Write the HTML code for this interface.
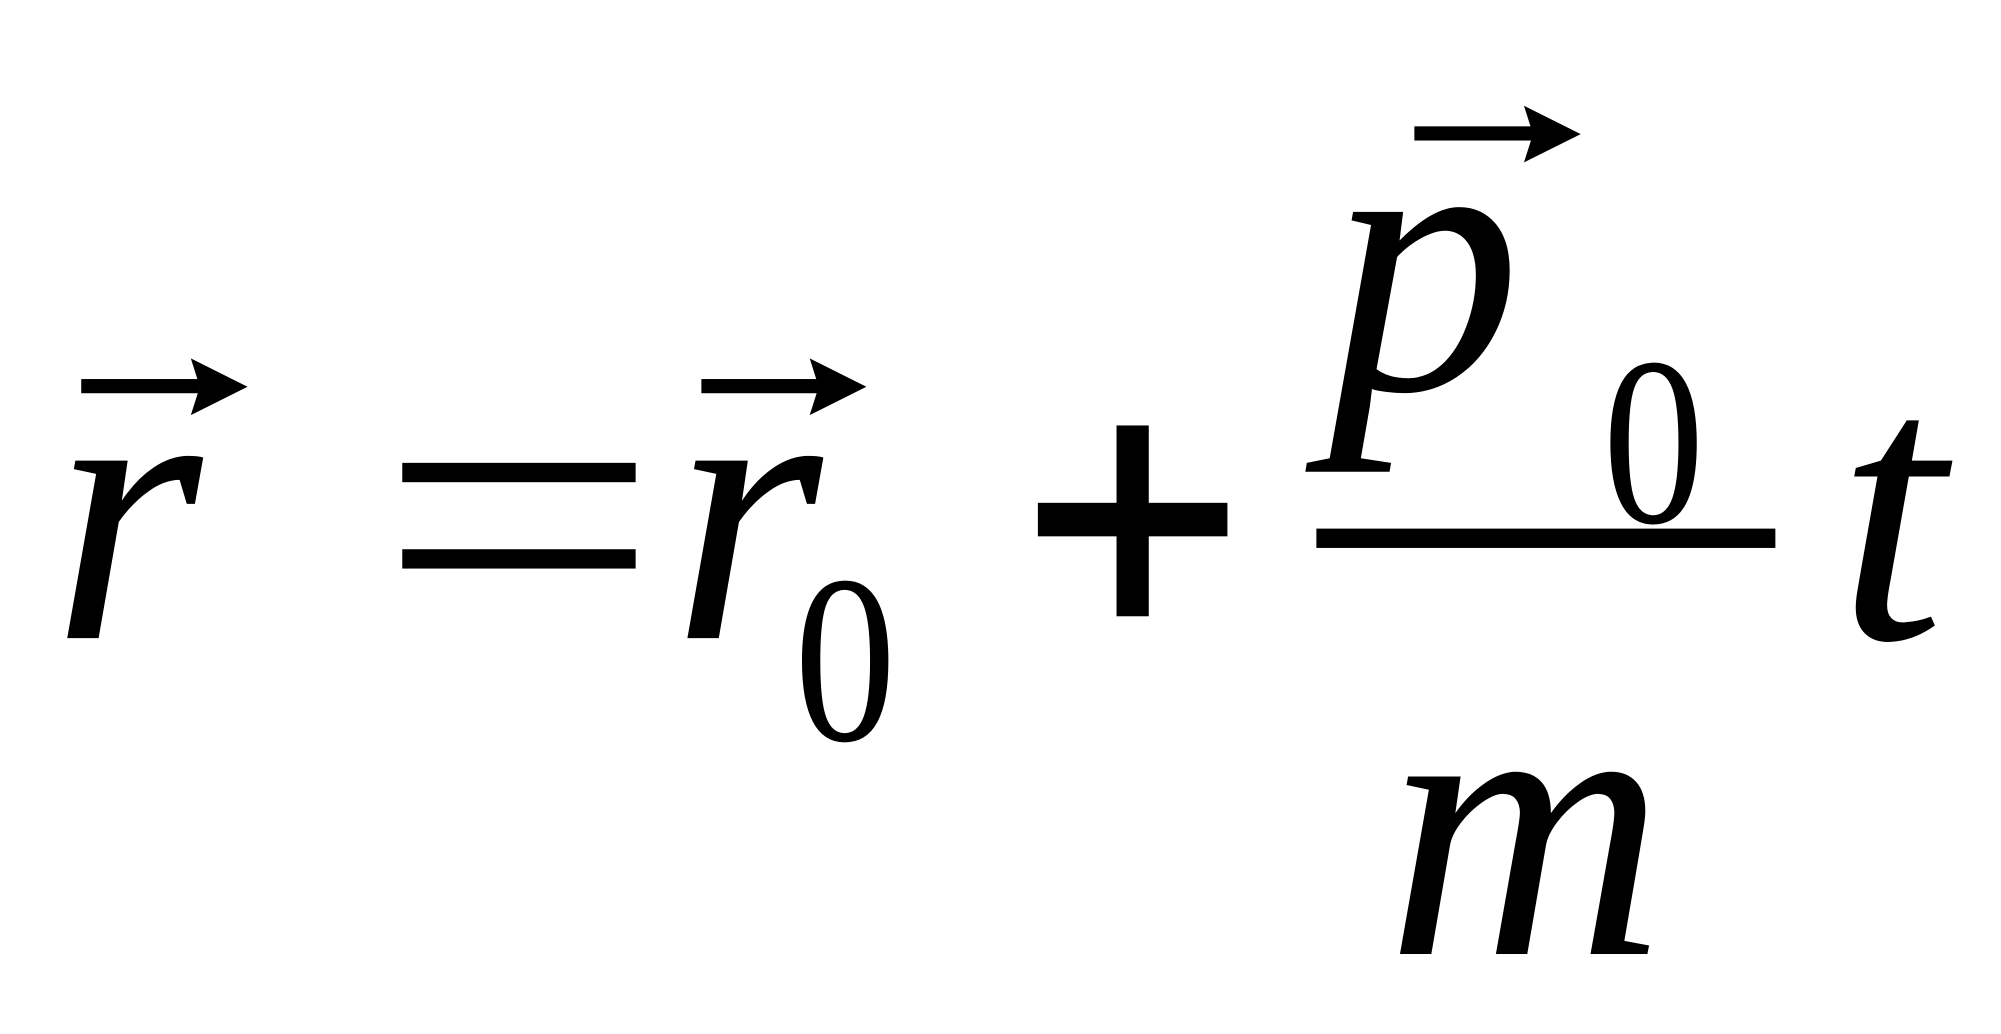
<!DOCTYPE html>
<html><head><meta charset="utf-8"><style>
html,body{margin:0;padding:0;background:#fff;}
svg{display:block;}
text{font-family:"Liberation Serif",serif;fill:#000;}
</style></head><body>
<svg width="2001" height="1034" viewBox="0 0 1552 802" preserveAspectRatio="none" xmlns="http://www.w3.org/2000/svg">
<rect width="1552" height="802" fill="#fff"/>
<g fill="#000">
<rect x="63" y="294" width="92" height="11"/>
<polygon points="148,278 192,300 148,322 155,300"/>
<rect x="544" y="294" width="92" height="11"/>
<polygon points="628,278 672,300 628,322 635,300"/>
<rect x="1097" y="98" width="92" height="11"/>
<polygon points="1182,82 1226,104 1182,126 1189,104"/>
<rect x="312" y="359" width="181" height="15"/>
<rect x="312" y="426" width="181" height="15"/>
<rect x="866" y="330" width="25" height="148"/>
<rect x="805" y="390" width="147" height="26"/>
<rect x="1021" y="410" width="356" height="15"/>
</g>
<text x="40" y="495" font-size="300" font-style="italic">r</text>
<text x="521" y="495" font-size="300" font-style="italic">r</text>
<text transform="translate(616,574) scale(0.85,1)" font-size="186">0</text>
<text x="1030" y="302" font-size="300" font-style="italic">p</text>
<text transform="translate(1243,405) scale(0.85,1)" font-size="186">0</text>
<text x="1425" y="495" font-size="300" font-style="italic">t</text>
<text x="1075" y="740" font-size="300" font-style="italic">m</text>
</svg>
</body></html>
